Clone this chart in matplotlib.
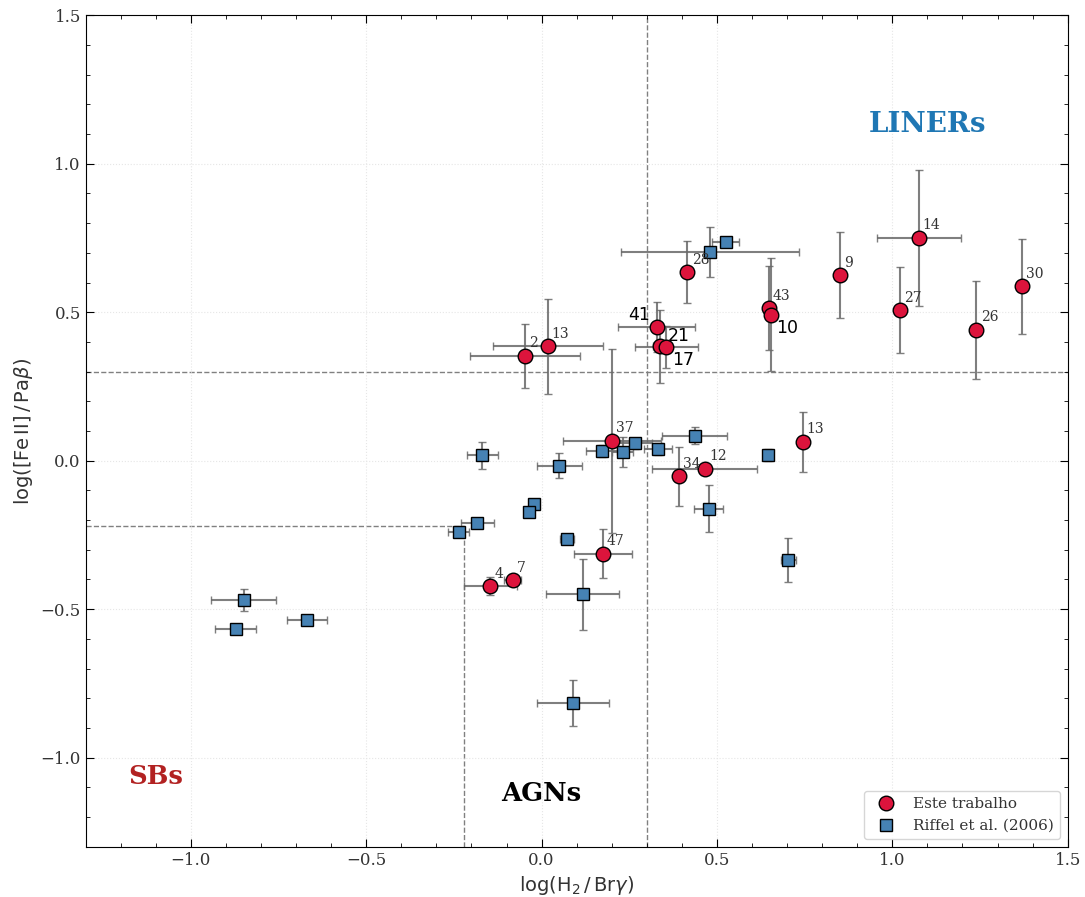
import matplotlib
matplotlib.use("Agg")
import matplotlib.pyplot as plt
from matplotlib.ticker import AutoMinorLocator

# Este trabalho (red circles)
ours_x = [-0.048, 0.017, 0.328, 0.339, 0.356, 0.416, 0.647, 0.653, 0.850, 1.075,
          1.021, 1.240, 1.369, 0.200, 0.391, 0.465, 0.744, 0.174, -0.146, -0.083]
ours_y = [0.353, 0.386, 0.450, 0.386, 0.383, 0.635, 0.514, 0.491, 0.625, 0.750,
          0.507, 0.440, 0.588, 0.067, -0.053, -0.028, 0.063, -0.313, -0.423, -0.403]
ours_xerr = [0.157, 0.157, 0.110, 0.020, 0.090, 0.000, 0.000, 0.000, 0.000, 0.120,
             0.000, 0.000, 0.000, 0.140, 0.000, 0.150, 0.000, 0.083, 0.076, 0.025]
ours_yerr = [0.107, 0.160, 0.084, 0.123, 0.070, 0.105, 0.140, 0.190, 0.145, 0.228,
             0.144, 0.165, 0.160, 0.310, 0.100, 0.010, 0.100, 0.082, 0.030, 0.020]
ours_lbl = ['2', '13', '41', '21', '17', '28', '43', '10', '9', '14',
            '27', '26', '30', '37', '34', '12', '13', '47', '4', '7']

# Riffel et al. (2006) (blue squares)
rif_x = [-0.850, -0.872, -0.670, -0.236, -0.183, -0.169, -0.023, -0.036, 0.051, 0.072,
         0.117, 0.171, 0.232, 0.266, 0.331, 0.437, 0.476, 0.645, 0.704, 0.089,
         0.479, 0.525]
rif_y = [-0.470, -0.568, -0.537, -0.239, -0.211, 0.018, -0.145, -0.174, -0.017, -0.265,
         -0.450, 0.034, 0.030, 0.058, 0.040, 0.084, -0.161, 0.018, -0.335, -0.817,
         0.703, 0.737]
rif_xerr = [0.093, 0.058, 0.057, 0.030, 0.046, 0.044, 0.000, 0.000, 0.065, 0.020,
            0.104, 0.045, 0.030, 0.050, 0.040, 0.093, 0.041, 0.015, 0.020, 0.103,
            0.254, 0.039]
rif_yerr = [0.037, 0.015, 0.015, 0.015, 0.015, 0.045, 0.000, 0.000, 0.042, 0.015,
            0.120, 0.020, 0.050, 0.020, 0.020, 0.028, 0.080, 0.020, 0.075, 0.077,
            0.084, 0.010]

# labels drawn bigger in sans font, with their own offsets (points)
special = {'41': (-5, 2, 'right'), '21': (5, 1, 'left'),
           '17': (4, -16, 'left'), '10': (4, -16, 'left')}

plt.rcParams['font.family'] = 'DejaVu Serif'
plt.rcParams['mathtext.fontset'] = 'dejavusans'
plt.rcParams['text.color'] = '#333333'
plt.rcParams['axes.labelcolor'] = '#333333'
plt.rcParams['xtick.labelcolor'] = '#333333'
plt.rcParams['ytick.labelcolor'] = '#333333'

fig, ax = plt.subplots(figsize=(10.85, 8.97), dpi=100)
fig.subplots_adjust(left=0.079, right=0.984, top=0.983, bottom=0.056)

ax.grid(True, color='#e6e6e6', ls=':', lw=0.8)

# separation lines
ax.axvline(0.3, color='gray', ls='--', lw=1, zorder=1)
ax.axhline(0.3, color='gray', ls='--', lw=1, zorder=1)
ax.plot([-1.3, -0.22], [-0.22, -0.22], color='gray', ls='--', lw=1, zorder=1)
ax.plot([-0.22, -0.22], [-1.3, -0.22], color='gray', ls='--', lw=1, zorder=1)

ekw = dict(fmt='none', ecolor='dimgray', elinewidth=1.5, capsize=3, capthick=1, alpha=0.85)
ax.errorbar(ours_x, ours_y, xerr=ours_xerr, yerr=ours_yerr, zorder=2, **ekw)
ax.errorbar(rif_x, rif_y, xerr=rif_xerr, yerr=rif_yerr, zorder=2, **ekw)
ax.plot(rif_x, rif_y, 's', ms=9, mfc='#4682b4', mec='black', mew=1,
        label='Riffel et al. (2006)', zorder=3)
ax.plot(ours_x, ours_y, 'o', ms=10.5, mfc='#dc143c', mec='black', mew=1,
        label='Este trabalho', zorder=4)

for x, y, t in zip(ours_x, ours_y, ours_lbl):
    if t in special:
        dx, dy, ha = special[t]
        ax.annotate(t, (x, y), xytext=(dx, dy), textcoords='offset points', color='black',
                    ha=ha, va='bottom', fontsize=12.5, family='DejaVu Sans', zorder=5)
    else:
        ax.annotate(t, (x, y), xytext=(3, 4), textcoords='offset points',
                    ha='left', va='bottom', fontsize=10, zorder=5)

ax.text(1.10, 1.133, 'LINERs', color='#1f77b4', fontsize=20, fontweight='bold',
        ha='center', va='center')
ax.text(-1.10, -1.065, 'SBs', color='#b22222', fontsize=18.5, fontweight='bold',
        ha='center', va='center')
ax.text(0.0, -1.12, 'AGNs', color='black', fontsize=18.5, fontweight='bold',
        ha='center', va='center')

ax.set_xlim(-1.3, 1.5)
ax.set_ylim(-1.3, 1.5)
ax.set_xticks([-1.0, -0.5, 0.0, 0.5, 1.0, 1.5])
ax.set_yticks([-1.0, -0.5, 0.0, 0.5, 1.0, 1.5])
ax.xaxis.set_minor_locator(AutoMinorLocator(5))
ax.yaxis.set_minor_locator(AutoMinorLocator(5))
ax.tick_params(which='both', direction='in', top=True, right=True, labelsize=12)
ax.tick_params(which='major', length=6)
ax.tick_params(which='minor', length=3)

ax.set_xlabel(r'$\mathrm{log(H_2\,/\,Br}\gamma)$', fontsize=14)
ax.set_ylabel(r'$\mathrm{log([Fe\,II]\,/\,Pa}\beta)$', fontsize=14)

h, l = ax.get_legend_handles_labels()
ax.legend(h[::-1], l[::-1], loc='lower right', fontsize=11, frameon=True)

fig.savefig('out.png', dpi=100)
